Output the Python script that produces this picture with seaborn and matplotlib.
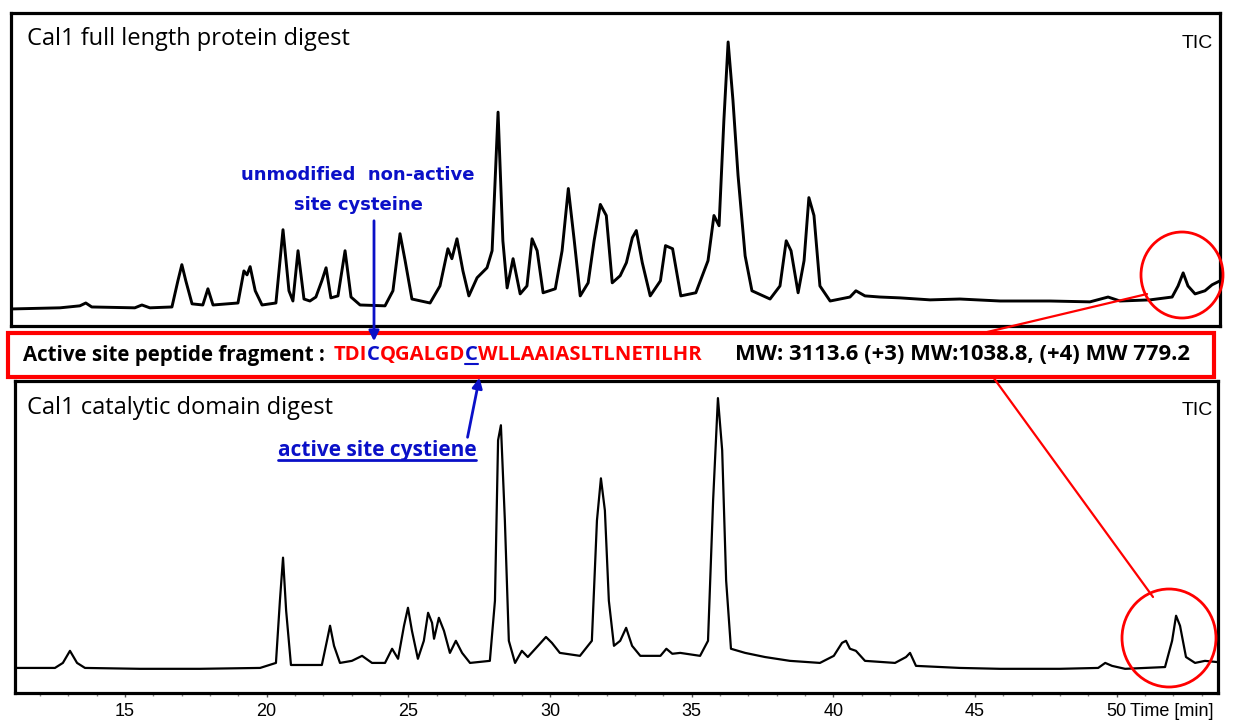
import matplotlib
matplotlib.use("Agg")
import matplotlib.pyplot as plt
from matplotlib.patches import Rectangle, Ellipse, FancyArrowPatch
from matplotlib.lines import Line2D
from matplotlib.ticker import MultipleLocator
import pandas as pd
import seaborn as sns

# TIC trace of the full length Cal1 digest (time in min, relative intensity)
full_time = [10.98, 12.71, 13.41, 13.62, 13.83, 15.35, 15.60, 15.88, 16.66, 16.87,
             17.01, 17.15, 17.37, 17.75, 17.93, 18.11, 18.99, 19.20, 19.31, 19.42,
             19.60, 19.84, 20.33, 20.58, 20.79, 20.93, 21.11, 21.32, 21.53, 21.74,
             21.95, 22.10, 22.27, 22.52, 22.77, 22.98, 23.30, 24.18, 24.46, 24.71,
             24.89, 25.13, 25.77, 26.12, 26.40, 26.54, 26.72, 26.93, 27.14, 27.43,
             27.78, 27.96, 28.17, 28.34, 28.49, 28.70, 28.95, 29.19, 29.37, 29.55,
             29.76, 30.19, 30.43, 30.65, 30.86, 31.07, 31.35, 31.56, 31.78, 31.99,
             32.20, 32.48, 32.70, 32.91, 33.05, 33.26, 33.54, 33.90, 34.08, 34.33,
             34.62, 35.15, 35.58, 35.79, 35.97, 36.14, 36.29, 36.46, 36.64, 36.89,
             37.13, 37.77, 38.12, 38.34, 38.51, 38.76, 38.97, 39.14, 39.32, 39.53,
             39.89, 40.59, 40.80, 41.12, 41.65, 42.36, 43.42, 44.47, 45.89, 47.65,
             49.06, 49.70, 50.12, 51.18, 51.96, 52.17, 52.35, 52.52, 52.77, 53.12,
             53.37, 53.65]
full_tic = [6.0, 6.4, 7.1, 8.1, 6.7, 6.4, 7.4, 6.4, 6.7, 15.9,
            21.6, 15.9, 7.8, 7.4, 13.1, 7.4, 8.1, 19.4, 18.0, 20.9,
            12.4, 7.4, 8.1, 33.9, 12.4, 8.8, 26.5, 9.5, 8.8, 10.2,
            15.9, 20.5, 9.9, 10.6, 26.5, 10.2, 7.4, 7.1, 12.4, 32.5,
            23.0, 9.5, 8.1, 14.1, 27.2, 23.7, 30.7, 19.4, 10.6, 17.0,
            20.5, 26.5, 75.3, 30.0, 13.4, 23.7, 11.3, 14.1, 30.7, 26.5,
            11.7, 13.1, 26.5, 48.4, 30.0, 10.6, 15.2, 30.0, 42.8, 38.9,
            15.2, 17.7, 22.3, 31.1, 33.6, 22.3, 10.6, 15.9, 28.3, 27.2,
            10.6, 11.7, 23.0, 38.9, 35.3, 72.4, 100.0, 79.5, 53.0, 24.7,
            12.4, 9.5, 14.1, 30.0, 26.5, 11.7, 23.0, 45.2, 38.9, 14.1,
            8.8, 10.2, 12.4, 10.6, 10.2, 9.9, 9.2, 9.5, 8.8, 8.8,
            8.5, 10.2, 8.8, 9.2, 10.2, 14.1, 18.7, 14.1, 11.3, 12.4,
            14.5, 15.9]

# TIC trace of the catalytic domain digest
cat_time = [11.15, 12.53, 12.81, 13.06, 13.31, 13.59, 15.53, 17.65, 19.77, 20.33,
            20.47, 20.58, 20.69, 20.86, 21.95, 22.13, 22.24, 22.38, 22.59, 23.01,
            23.37, 23.72, 24.18, 24.43, 24.64, 24.85, 24.99, 25.13, 25.34, 25.55,
            25.70, 25.84, 25.91, 26.08, 26.26, 26.47, 26.68, 26.90, 27.18, 27.88,
            28.06, 28.17, 28.27, 28.41, 28.55, 28.77, 29.01, 29.22, 29.58, 29.86,
            30.07, 30.35, 31.06, 31.48, 31.66, 31.80, 31.94, 32.08, 32.26, 32.48,
            32.69, 32.90, 33.19, 33.90, 34.11, 34.32, 34.60, 35.30, 35.58, 35.76,
            35.93, 36.08, 36.22, 36.39, 36.89, 37.59, 38.47, 39.53, 40.02, 40.31,
            40.45, 40.59, 40.80, 41.12, 42.18, 42.57, 42.71, 42.92, 44.47, 45.89,
            48.00, 49.35, 49.60, 49.84, 50.30, 51.71, 51.96, 52.10, 52.24, 52.45,
            52.77, 53.12, 53.54]
cat_tic = [8.5, 8.5, 10.2, 14.3, 10.2, 8.5, 8.2, 8.2, 8.5, 10.2,
           31.3, 45.9, 27.9, 9.5, 9.5, 17.7, 22.8, 16.0, 10.2, 10.9,
           12.6, 10.2, 10.2, 15.0, 11.6, 22.8, 28.9, 21.1, 11.6, 17.7,
           27.2, 23.8, 18.4, 25.5, 21.1, 13.6, 17.7, 13.6, 10.2, 10.9,
           31.3, 85.7, 90.8, 58.5, 17.7, 10.2, 14.3, 12.2, 16.0, 19.0,
           17.0, 13.6, 12.6, 17.7, 58.5, 72.8, 61.9, 31.3, 16.0, 17.7,
           22.1, 16.0, 12.6, 12.6, 15.0, 13.3, 13.6, 12.6, 17.7, 65.3,
           100.0, 82.3, 38.1, 15.0, 13.6, 12.2, 10.9, 10.2, 12.6, 17.0,
           17.7, 15.0, 14.3, 10.9, 10.2, 12.2, 13.6, 9.2, 8.5, 8.2,
           8.2, 8.5, 10.2, 9.2, 8.2, 8.8, 17.7, 26.2, 22.8, 12.2,
           10.2, 10.9, 10.5]

tick_minutes = [15, 20, 25, 30, 35, 40, 45, 50]

seq_pieces = [("TDI", "red"), ("C", "blue"), ("QGALGD", "red"),
              ("C", "blue_u"), ("WLLAAIASLTLNETILHR", "red")]

W, H = 1241, 725
BLUE = "#0a10c8"
RED = "#ff0000"


def fx(x):
    return x / W


def fy(y):
    return 1 - y / H


sns.set_style("white")
plt.rcParams["font.family"] = ["Liberation Sans", "DejaVu Sans"]
plt.rcParams["text.color"] = "black"
plt.rcParams["xtick.color"] = "black"

fig = plt.figure(figsize=(W / 100, H / 100), dpi=100)
ax_top = fig.add_axes([fx(11), fy(326), fx(1220) - fx(11), fy(13) - fy(326)])
ax_bot = fig.add_axes([fx(15), fy(693), fx(1218) - fx(15), fy(381) - fy(693)])

top_df = pd.DataFrame({"time": full_time, "tic": full_tic})
bot_df = pd.DataFrame({"time": cat_time, "tic": cat_tic})

sns.lineplot(data=top_df, x="time", y="tic", ax=ax_top, color="black",
             linewidth=2.1, sort=False, estimator=None)
sns.lineplot(data=bot_df, x="time", y="tic", ax=ax_bot, color="black",
             linewidth=1.6, sort=False, estimator=None)

ax_top.set_xlim(10.98, 53.65)
ax_top.set_ylim(0, 110.2)
ax_bot.set_xlim(11.12, 53.58)
ax_bot.set_ylim(0, 105.8)

for ax in (ax_top, ax_bot):
    ax.set_xlabel("")
    ax.set_ylabel("")
    ax.set_yticks([])
    for sp in ax.spines.values():
        sp.set_visible(True)
        sp.set_color("black")
        sp.set_linewidth(2.3)

ax_top.set_xticks([])
ax_bot.set_xticks(tick_minutes)
ax_bot.set_xticklabels([str(t) for t in tick_minutes])
ax_bot.xaxis.set_minor_locator(MultipleLocator(1))
ax_bot.tick_params(axis="x", which="major", direction="out", length=3, width=1,
                   color="#555555", labelcolor="black", labelsize=13, pad=4, bottom=True)
ax_bot.tick_params(axis="x", which="minor", direction="out", length=2, width=1,
                   color="#888888", bottom=True)

fig.text(fx(1130), fy(712), "Time [min]", fontsize=13, va="center", ha="left")

# panel titles
fig.text(fx(27), fy(39), "Cal1 full length protein digest", fontsize=17,
         family="Open Sans", va="center", ha="left")
fig.text(fx(27), fy(408), "Cal1 catalytic domain digest", fontsize=17,
         family="Open Sans", va="center", ha="left")
fig.text(fx(1197), fy(44), "TIC", fontsize=14, va="center", ha="center")
fig.text(fx(1197), fy(411), "TIC", fontsize=14, va="center", ha="center")

# red box with the peptide fragment
fig.patches.append(Rectangle((fx(8), fy(377)), fx(1214) - fx(8), fy(333) - fy(377),
                             transform=fig.transFigure, fill=False,
                             edgecolor=RED, linewidth=3, zorder=5))

renderer = fig.canvas.get_renderer()
box_font = dict(family="Open Sans", fontweight="bold", va="center", ha="left")
fig.text(fx(23), fy(355), "Active site peptide fragment :", fontsize=14.8, **box_font)


def text_width(s, size):
    probe = fig.text(0, 0, s, fontsize=size, **box_font)
    w = probe.get_window_extent(renderer).width
    probe.remove()
    return w


seq_size = 14.6
x0 = 334
prefix = ""
for txt, col in seq_pieces:
    start = x0 + (text_width(prefix + "|", seq_size) - text_width("|", seq_size) if prefix else 0)
    c = BLUE if col.startswith("blue") else RED
    t = fig.text(fx(start), fy(355), txt, fontsize=seq_size, color=c, **box_font)
    if col == "blue_u":
        bb = t.get_window_extent(renderer)
        fig.lines.append(Line2D([bb.x0 / W, bb.x1 / W], [(bb.y0 + 1) / H] * 2,
                                transform=fig.transFigure, color=BLUE, linewidth=1.5))
    prefix += txt
fig.text(fx(735), fy(355), "MW: 3113.6 (+3) MW:1038.8, (+4) MW 779.2",
         fontsize=15.8, **box_font)

# annotations
fig.text(fx(358), fy(175), "unmodified  non-active", fontsize=13,
         fontweight="bold", family="DejaVu Sans", color=BLUE, ha="center", va="center")
fig.text(fx(358), fy(205), "site cysteine", fontsize=13,
         fontweight="bold", family="DejaVu Sans", color=BLUE, ha="center", va="center")
fig.add_artist(FancyArrowPatch(
    (fx(374), fy(218)), (fx(374), fy(344)), transform=fig.transFigure,
    arrowstyle="-|>,head_length=6,head_width=3", color=BLUE, linewidth=2, zorder=6))
fig.add_artist(FancyArrowPatch(
    (fx(467), fy(440)), (fx(480), fy(375)), transform=fig.transFigure,
    arrowstyle="-|>,head_length=6,head_width=3", color=BLUE, linewidth=2, zorder=6))

t_act = fig.text(fx(377), fy(451), "active site cystiene", fontsize=15,
                 fontweight="bold", family="Open Sans", color=BLUE, ha="center", va="center")
bb = t_act.get_window_extent(renderer)
fig.lines.append(Line2D([bb.x0 / W, bb.x1 / W], [(bb.y0 + 1) / H] * 2,
                        transform=fig.transFigure, color=BLUE, linewidth=2))

# red circles and connecting lines
fig.add_artist(Ellipse((fx(1182), fy(275)), 82 / W, 86 / H, transform=fig.transFigure,
                       fill=False, edgecolor=RED, linewidth=2, zorder=6))
fig.add_artist(Ellipse((fx(1169), fy(638)), 94 / W, 98 / H, transform=fig.transFigure,
                       fill=False, edgecolor=RED, linewidth=2, zorder=6))
fig.add_artist(Line2D([fx(1147), fx(983)], [fy(294), fy(333)],
                      transform=fig.transFigure, color=RED, linewidth=1.6))
fig.add_artist(Line2D([fx(993), fx(1153)], [fy(377), fy(597)],
                      transform=fig.transFigure, color=RED, linewidth=1.6))

fig.savefig("out.png", dpi=100)
